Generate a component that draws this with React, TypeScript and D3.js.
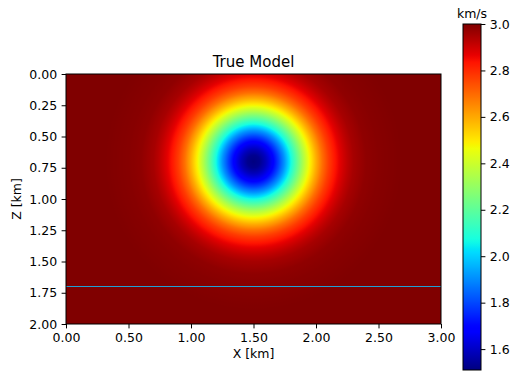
import React, { useEffect, useRef } from 'react';
import * as d3 from 'd3';

// velocity profile of the anomaly, read along a radius from its centre (km, km/s)
const profileRadius = [0, 0.05, 0.1, 0.15, 0.2, 0.25, 0.3, 0.35, 0.4, 0.45, 0.5, 0.55, 0.6, 0.65, 0.7, 0.75, 0.8, 0.9, 1.0, 1.2];
const profileVelocity = [1.51, 1.53, 1.59, 1.67, 1.79, 1.92, 2.07, 2.21, 2.35, 2.48, 2.59, 2.69, 2.77, 2.83, 2.88, 2.92, 2.95, 2.98, 2.99, 3.0];
const anomalyCenter = [1.5, 0.7]; // x, z in km
const backgroundVelocity = 3.0;
const velocityRange = [1.51, 3.0];
const interfaceDepth = [1.7];

const xTicks = [0, 0.5, 1.0, 1.5, 2.0, 2.5, 3.0];
const zTicks = [0, 0.25, 0.5, 0.75, 1.0, 1.25, 1.5, 1.75, 2.0];
const cbarTicks = [1.6, 1.8, 2.0, 2.2, 2.4, 2.6, 2.8, 3.0];

// matplotlib jet
const jetR = d3.scaleLinear<number>().domain([0, 0.35, 0.66, 0.89, 1]).range([0, 0, 1, 1, 0.5]).clamp(true);
const jetG = d3.scaleLinear<number>().domain([0, 0.125, 0.375, 0.64, 0.91, 1]).range([0, 0, 1, 1, 0, 0]).clamp(true);
const jetB = d3.scaleLinear<number>().domain([0, 0.11, 0.34, 0.65, 1]).range([0.5, 1, 1, 0, 0]).clamp(true);
const jet = (t: number) =>
  d3.rgb(jetR(t) * 255, jetG(t) * 255, jetB(t) * 255).formatHex();

const W = 513;
const H = 371;
const margin = { left: 66, top: 74, right: 441, bottom: 324 };
const font = 'DejaVu Sans, sans-serif';

export default function App() {
  const svgRef = useRef<SVGSVGElement>(null);

  useEffect(() => {
    if (!svgRef.current) return;
    const svg = d3.select(svgRef.current);
    svg.selectAll('*').remove();

    const x = d3.scaleLinear().domain([0, 3]).range([margin.left, margin.right]);
    const z = d3.scaleLinear().domain([0, 2]).range([margin.top, margin.bottom]);
    const norm = d3.scaleLinear().domain(velocityRange).range([0, 1]).clamp(true);
    const profile = d3.scaleLinear<number>().domain(profileRadius).range(profileVelocity).clamp(true);
    const pxPerKm = x(1) - x(0);
    const rMax = profileRadius[profileRadius.length - 1];

    const defs = svg.append('defs');

    // radial gradient for the anomaly
    const rg = defs.append('radialGradient')
      .attr('id', 'anomaly')
      .attr('gradientUnits', 'userSpaceOnUse')
      .attr('cx', x(anomalyCenter[0]))
      .attr('cy', z(anomalyCenter[1]))
      .attr('r', rMax * pxPerKm);
    d3.range(0, 121).forEach(i => {
      const r = (i / 120) * rMax;
      rg.append('stop')
        .attr('offset', i / 120)
        .attr('stop-color', jet(norm(profile(r))));
    });

    defs.append('clipPath').attr('id', 'plotClip')
      .append('rect')
      .attr('x', margin.left).attr('y', margin.top)
      .attr('width', margin.right - margin.left)
      .attr('height', margin.bottom - margin.top);

    const plot = svg.append('g').attr('clip-path', 'url(#plotClip)');
    plot.append('rect')
      .attr('x', margin.left).attr('y', margin.top)
      .attr('width', margin.right - margin.left)
      .attr('height', margin.bottom - margin.top)
      .attr('fill', jet(norm(backgroundVelocity)));
    plot.append('circle')
      .attr('cx', x(anomalyCenter[0]))
      .attr('cy', z(anomalyCenter[1]))
      .attr('r', rMax * pxPerKm)
      .attr('fill', 'url(#anomaly)');

    plot.selectAll('.interface')
      .data(interfaceDepth)
      .enter()
      .append('line')
      .attr('x1', margin.left).attr('x2', margin.right)
      .attr('y1', d => z(d)).attr('y2', d => z(d))
      .attr('stroke', '#1f9fd4')
      .attr('stroke-width', 1.2);

    // frame
    svg.append('rect')
      .attr('x', margin.left).attr('y', margin.top)
      .attr('width', margin.right - margin.left)
      .attr('height', margin.bottom - margin.top)
      .attr('fill', 'none')
      .attr('stroke', '#000')
      .attr('stroke-width', 1);

    const styleAxis = (g: d3.Selection<SVGGElement, unknown, null, undefined>) => {
      g.select('.domain').remove();
      g.selectAll('.tick line').attr('stroke', '#000').attr('stroke-width', 1);
      g.selectAll('.tick text')
        .attr('fill', '#000')
        .style('font-family', font)
        .style('font-size', '12.5px');
    };

    svg.append('g')
      .attr('transform', `translate(0,${margin.bottom})`)
      .call(d3.axisBottom(x).tickValues(xTicks).tickFormat(d3.format('.2f')).tickSize(4.4).tickPadding(4.4))
      .call(styleAxis);

    svg.append('g')
      .attr('transform', `translate(${margin.left},0)`)
      .call(d3.axisLeft(z).tickValues(zTicks).tickFormat(d3.format('.2f')).tickSize(4.4).tickPadding(4.4))
      .call(styleAxis);

    svg.append('text')
      .attr('x', (margin.left + margin.right) / 2)
      .attr('y', 67)
      .attr('text-anchor', 'middle')
      .style('font-family', font)
      .style('font-size', '15px')
      .text('True Model');

    svg.append('text')
      .attr('x', (margin.left + margin.right) / 2)
      .attr('y', 358)
      .attr('text-anchor', 'middle')
      .style('font-family', font)
      .style('font-size', '12.5px')
      .text('X [km]');

    svg.append('text')
      .attr('transform', `translate(21,${(margin.top + margin.bottom) / 2}) rotate(-90)`)
      .attr('text-anchor', 'middle')
      .style('font-family', font)
      .style('font-size', '12.5px')
      .text('Z [km]');

    // colorbar
    const cb = { left: 463, right: 481, top: 24, bottom: 370 };
    const cbScale = d3.scaleLinear().domain(velocityRange).range([cb.bottom, cb.top]);
    const lg = defs.append('linearGradient')
      .attr('id', 'cbar')
      .attr('x1', 0).attr('y1', 1).attr('x2', 0).attr('y2', 0);
    d3.range(0, 101).forEach(i => {
      lg.append('stop')
        .attr('offset', i / 100)
        .attr('stop-color', jet(i / 100));
    });
    svg.append('rect')
      .attr('x', cb.left).attr('y', cb.top)
      .attr('width', cb.right - cb.left)
      .attr('height', cb.bottom - cb.top)
      .attr('fill', 'url(#cbar)')
      .attr('stroke', '#000')
      .attr('stroke-width', 1);

    svg.append('g')
      .attr('transform', `translate(${cb.right},0)`)
      .call(d3.axisRight(cbScale).tickValues(cbarTicks).tickFormat(d3.format('.1f')).tickSize(4.4).tickPadding(4.4))
      .call(styleAxis);

    svg.append('text')
      .attr('x', 472)
      .attr('y', 17.5)
      .attr('text-anchor', 'middle')
      .style('font-family', font)
      .style('font-size', '12.5px')
      .text('km/s');
  }, []);

  return (
    <svg
      ref={svgRef}
      width={W}
      height={H}
      style={{ position: 'absolute', left: 0, top: 0, background: '#fff' }}
    />
  );
}
